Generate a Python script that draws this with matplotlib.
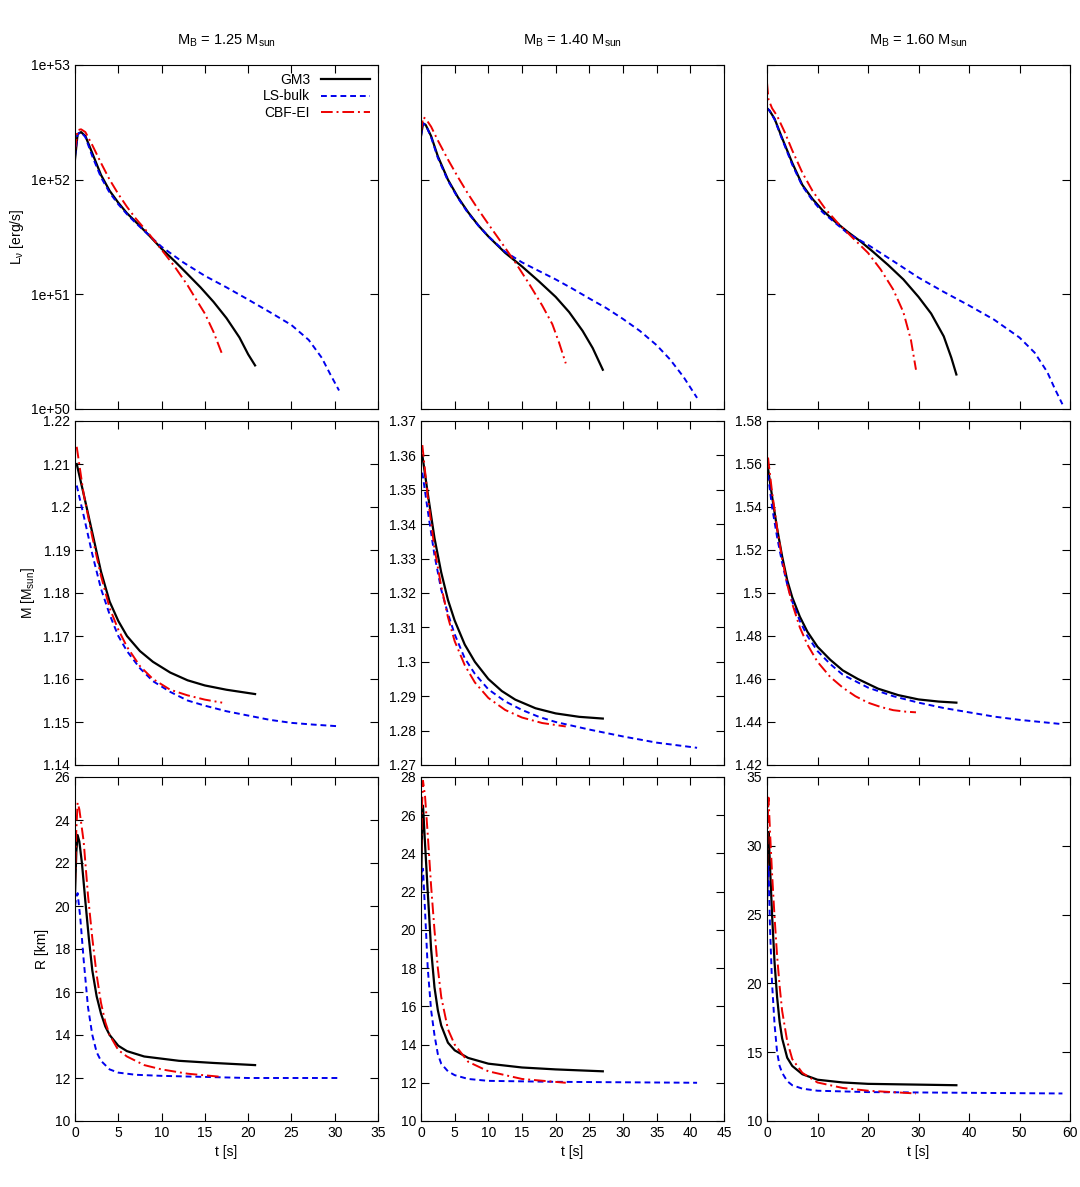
import numpy as np
import matplotlib
matplotlib.use("Agg")
import matplotlib.pyplot as plt
from matplotlib.ticker import MultipleLocator, FixedLocator, NullLocator, FuncFormatter

plt.rcParams['font.family'] = ['Liberation Sans', 'DejaVu Sans']
plt.rcParams['font.size'] = 10
plt.rcParams['mathtext.default'] = 'regular'

masses = ["1.25", "1.40", "1.60"]
series = ["GM3", "LS-bulk", "CBF-EI"]

# Luminosity [erg/s]
L_t = {
 (0, "GM3"): [0, .3, .7, 1.2, 2, 3, 4, 5, 6, 7, 8.5, 10, 11.5, 13, 14.5, 16, 17.5, 19, 20, 20.8],
 (0, "LS-bulk"): [0, .3, .7, 1.2, 2, 3, 4, 5, 6, 7, 8.5, 10, 12.5, 15, 17.5, 20, 22.5, 25, 27, 28.5, 29.5, 30.5],
 (0, "CBF-EI"): [0, .3, .7, 1.2, 2, 3, 4, 5, 6, 7, 8.5, 10, 11.5, 13, 14, 15, 16, 17],
 (1, "GM3"): [0, .3, .7, 1.5, 2.5, 4, 5.5, 7, 8.5, 10, 12.5, 15, 17.5, 20, 22, 24, 25.5, 27],
 (1, "LS-bulk"): [0, .3, .7, 1.5, 2.5, 4, 5.5, 7, 8.5, 10, 12.5, 15, 17.5, 20, 22.5, 25, 27.5, 30, 32.5, 35, 37, 39, 41],
 (1, "CBF-EI"): [0, .3, .7, 1.5, 2.5, 4, 5.5, 7, 8.5, 10, 12, 14, 16, 18, 19.5, 20.5, 21.5],
 (2, "GM3"): [0, .5, 1.5, 3, 5, 7, 9, 11, 13.5, 16, 18.5, 21, 24, 27, 30, 32.5, 35, 36.5, 37.5],
 (2, "LS-bulk"): [0, .5, 1.5, 3, 5, 7, 9, 11, 13.5, 16, 20, 25, 30, 35, 40, 45, 50, 53, 55.5, 57, 58.5],
 (2, "CBF-EI"): [0, .3, 1, 2, 3.5, 5, 7, 9, 11.5, 14, 17, 20, 22.5, 25, 27, 28.5, 29.5],
}
L_v = {
 (0, "GM3"): [1.5e52, 2.5e52, 2.6e52, 2.4e52, 1.7e52, 1.1e52, 8e51, 6.3e51, 5.1e51, 4.3e51, 3.3e51, 2.5e51, 1.95e51, 1.5e51, 1.15e51, 8.6e50, 6.2e50, 4.2e50, 3.0e50, 2.4e50],
 (0, "LS-bulk"): [1.6e52, 2.5e52, 2.6e52, 2.35e52, 1.6e52, 1.05e52, 7.7e51, 6.1e51, 5e51, 4.2e51, 3.3e51, 2.6e51, 1.9e51, 1.45e51, 1.15e51, 9e50, 7e50, 5.4e50, 4e50, 2.8e50, 2e50, 1.45e50],
 (0, "CBF-EI"): [1.8e52, 2.7e52, 2.75e52, 2.6e52, 2e52, 1.4e52, 1e52, 7.5e51, 5.8e51, 4.6e51, 3.4e51, 2.45e51, 1.75e51, 1.2e51, 9e50, 6.8e50, 4.7e50, 3e50],
 (1, "GM3"): [2.4e52, 3.1e52, 3e52, 2.4e52, 1.6e52, 1e52, 7e51, 5.2e51, 4e51, 3.2e51, 2.3e51, 1.75e51, 1.3e51, 9.5e50, 7e50, 4.8e50, 3.4e50, 2.2e50],
 (1, "LS-bulk"): [2.4e52, 3.1e52, 3e52, 2.35e52, 1.55e52, 9.8e51, 6.9e51, 5.1e51, 4e51, 3.2e51, 2.35e51, 1.9e51, 1.6e51, 1.35e51, 1.12e51, 9.2e50, 7.6e50, 6.1e50, 4.8e50, 3.6e50, 2.7e50, 1.9e50, 1.25e50],
 (1, "CBF-EI"): [2.6e52, 3.5e52, 3.4e52, 2.9e52, 2.2e52, 1.5e52, 1.05e52, 7.5e51, 5.5e51, 4.1e51, 2.8e51, 1.9e51, 1.25e51, 8e50, 5.5e50, 3.8e50, 2.5e50],
 (2, "GM3"): [4.2e52, 4e52, 3.4e52, 2.3e52, 1.4e52, 9e51, 6.8e51, 5.4e51, 4.3e51, 3.5e51, 2.9e51, 2.35e51, 1.8e51, 1.35e51, 9.5e50, 6.8e50, 4.3e50, 2.8e50, 2e50],
 (2, "LS-bulk"): [4.2e52, 4e52, 3.35e52, 2.25e52, 1.35e52, 8.8e51, 6.6e51, 5.2e51, 4.2e51, 3.4e51, 2.7e51, 1.95e51, 1.4e51, 1.05e51, 8e50, 6e50, 4.2e50, 3.1e50, 2.1e50, 1.5e50, 1.1e50],
 (2, "CBF-EI"): [7e52, 5e52, 4.2e52, 3.6e52, 2.6e52, 1.8e52, 1.15e52, 8e51, 5.6e51, 4.2e51, 3.1e51, 2.3e51, 1.65e51, 1.1e51, 7e50, 4e50, 2.2e50],
}

# Gravitational mass [Msun]
M_t = {
 (0, "GM3"): [.2, 1, 2, 3, 4, 5, 6, 7.5, 9, 11, 13, 15, 17.5, 20.8],
 (0, "LS-bulk"): [.2, 1, 2, 3, 4, 5, 6, 7.5, 9, 11, 13, 15, 17.5, 20, 22.5, 25, 27.5, 30.5],
 (0, "CBF-EI"): [.2, 1, 2, 3, 4, 5, 6, 7.5, 9, 11, 13, 15, 17],
 (1, "GM3"): [.2, 1, 2, 3, 4, 5, 6.5, 8, 10, 12, 14, 17, 20, 23.5, 27],
 (1, "LS-bulk"): [.2, 1, 2, 3, 4, 5, 6.5, 8, 10, 12.5, 15, 17.5, 20, 25, 30, 35, 41],
 (1, "CBF-EI"): [.2, 1, 2, 3, 4, 5, 6.5, 8, 10, 12.5, 15, 18, 21.5],
 (2, "GM3"): [.2, 1, 2, 3, 4, 5, 6.5, 8, 10, 12.5, 15, 18, 22, 26, 30, 34, 37.5],
 (2, "LS-bulk"): [.2, 1, 2, 3, 4, 5, 6.5, 8, 10, 12.5, 15, 20, 25, 30, 35, 40, 45, 50, 58.5],
 (2, "CBF-EI"): [.2, 1, 2, 3, 4, 5, 6.5, 8, 10, 12.5, 15, 17.5, 20, 22.5, 25, 27.5, 29.5],
}
M_v = {
 (0, "GM3"): [1.210, 1.203, 1.194, 1.185, 1.178, 1.1735, 1.170, 1.1665, 1.164, 1.1615, 1.1597, 1.1585, 1.1575, 1.1565],
 (0, "LS-bulk"): [1.205, 1.198, 1.189, 1.181, 1.175, 1.170, 1.1665, 1.1625, 1.1595, 1.157, 1.155, 1.1538, 1.1525, 1.1515, 1.1505, 1.1498, 1.1494, 1.149],
 (0, "CBF-EI"): [1.214, 1.203, 1.193, 1.184, 1.1765, 1.1715, 1.1675, 1.163, 1.160, 1.1575, 1.1562, 1.1552, 1.1545],
 (1, "GM3"): [1.360, 1.349, 1.336, 1.326, 1.318, 1.312, 1.305, 1.300, 1.295, 1.2915, 1.289, 1.2865, 1.285, 1.284, 1.2835],
 (1, "LS-bulk"): [1.355, 1.344, 1.331, 1.321, 1.314, 1.308, 1.301, 1.2965, 1.292, 1.2885, 1.286, 1.284, 1.2825, 1.2803, 1.2783, 1.2765, 1.275],
 (1, "CBF-EI"): [1.363, 1.348, 1.333, 1.322, 1.313, 1.306, 1.299, 1.294, 1.2895, 1.286, 1.2838, 1.2822, 1.2812],
 (2, "GM3"): [1.558, 1.545, 1.530, 1.517, 1.506, 1.498, 1.489, 1.482, 1.475, 1.469, 1.464, 1.460, 1.4555, 1.4525, 1.4505, 1.4495, 1.449],
 (2, "LS-bulk"): [1.555, 1.540, 1.526, 1.514, 1.504, 1.496, 1.487, 1.480, 1.473, 1.467, 1.462, 1.456, 1.452, 1.449, 1.4465, 1.4445, 1.4425, 1.441, 1.439],
 (2, "CBF-EI"): [1.563, 1.547, 1.530, 1.516, 1.504, 1.495, 1.484, 1.476, 1.468, 1.461, 1.456, 1.452, 1.449, 1.447, 1.4455, 1.4448, 1.4445],
}

# Radius [km]
R_t = {
 (0, "GM3"): [0, .15, .3, .5, .8, 1.2, 1.6, 2, 2.5, 3, 3.5, 4, 5, 6, 8, 10, 12, 16, 20.8],
 (0, "LS-bulk"): [0, .15, .3, .6, 1, 1.5, 2, 2.5, 3, 4, 5, 7, 10, 20, 30.5],
 (0, "CBF-EI"): [0, .15, .3, .5, 1, 1.5, 2, 2.5, 3, 3.5, 4, 5, 6, 8, 10, 13, 17],
 (1, "GM3"): [0, .15, .3, .6, 1, 1.5, 2, 2.5, 3, 4, 5, 7, 10, 15, 20, 27],
 (1, "LS-bulk"): [0, .15, .3, .6, 1, 1.5, 2, 2.5, 3, 4, 5, 7, 10, 20, 41],
 (1, "CBF-EI"): [0, .15, .3, .6, 1, 1.5, 2, 2.5, 3, 4, 5, 7, 10, 15, 21.5],
 (2, "GM3"): [0, .15, .3, .6, 1, 1.5, 2, 2.5, 3, 4, 5, 7, 10, 15, 20, 37.5],
 (2, "LS-bulk"): [0, .15, .3, .6, 1, 1.5, 2, 2.5, 3, 4, 5, 7, 10, 20, 58.5],
 (2, "CBF-EI"): [0, .15, .3, .6, 1, 1.5, 2, 2.5, 3, 4, 5, 7, 10, 15, 20, 29.5],
}
R_v = {
 (0, "GM3"): [20.5, 22.5, 23.3, 23.0, 22, 20.2, 18.5, 17, 15.8, 15, 14.4, 14, 13.5, 13.25, 13.0, 12.9, 12.8, 12.7, 12.6],
 (0, "LS-bulk"): [20, 20.4, 20.6, 19.5, 17.5, 15.3, 14, 13.2, 12.8, 12.4, 12.25, 12.15, 12.1, 12.0, 12.0],
 (0, "CBF-EI"): [21, 23.5, 24.8, 24.5, 23, 20.5, 18.5, 16.8, 15.5, 14.6, 14, 13.3, 13, 12.6, 12.4, 12.2, 12.05],
 (1, "GM3"): [22, 25, 26.5, 24.5, 22, 19, 17, 15.8, 15, 14.1, 13.7, 13.3, 13, 12.8, 12.7, 12.6],
 (1, "LS-bulk"): [22, 23, 23.2, 21, 18, 15.8, 14.5, 13.5, 13, 12.6, 12.4, 12.2, 12.1, 12.05, 12.0],
 (1, "CBF-EI"): [23, 26.5, 27.8, 27, 25, 22.3, 20, 18, 16.5, 14.8, 14, 13.1, 12.6, 12.2, 12.0],
 (2, "GM3"): [26, 29.5, 31, 28.5, 25, 21.5, 19, 17.2, 16, 14.6, 14, 13.4, 13, 12.8, 12.7, 12.6],
 (2, "LS-bulk"): [26, 28, 28.5, 24, 20, 17, 15, 14, 13.5, 12.9, 12.6, 12.35, 12.2, 12.1, 12.0],
 (2, "CBF-EI"): [27, 32, 33.5, 31, 28, 24.8, 22, 19.8, 18, 15.8, 14.5, 13.5, 12.8, 12.4, 12.2, 12.0],
}

styles = {"GM3": dict(color='black', ls='-', lw=1.6),
          "LS-bulk": dict(color='#0000ee', ls=(0, (3, 2)), lw=1.4),
          "CBF-EI": dict(color='#ee0000', ls=(0, (6, 2, 1, 2)), lw=1.4)}

xmax = [35, 45, 60]
xstep = [5, 5, 10]
mlims = [(1.14, 1.22, 0.01), (1.27, 1.37, 0.01), (1.42, 1.58, 0.02)]
rlims = [(10, 26, 2), (10, 28, 2), (10, 35, 5)]

fig = plt.figure(figsize=(10.8, 11.87), dpi=100)
W, H = 1080, 1187
xl = [75, 421, 767]; pw = 303
yt = [65, 421, 777]; ph = 344

for c in range(3):
    axes = []
    for r in range(3):
        ax = fig.add_axes([xl[c]/W, 1 - (yt[r]+ph)/H, pw/W, ph/H])
        axes.append(ax)
        ax.tick_params(direction='in', top=True, right=True, length=6, labelsize=10)
        ax.set_xlim(0, xmax[c])
        ax.xaxis.set_major_locator(MultipleLocator(xstep[c]))
        if r < 2:
            ax.set_xticklabels([])
    aL, aM, aR = axes
    for s in series:
        aL.plot(L_t[(c, s)], L_v[(c, s)], label=s, **styles[s])
        aM.plot(M_t[(c, s)], M_v[(c, s)], **styles[s])
        aR.plot(R_t[(c, s)], R_v[(c, s)], **styles[s])
    aL.set_yscale('log')
    aL.set_ylim(1e50, 1e53)
    aL.yaxis.set_major_locator(FixedLocator([1e50, 1e51, 1e52, 1e53]))
    aL.yaxis.set_minor_locator(NullLocator())
    if c == 0:
        aL.set_yticklabels(['1e+50', '1e+51', '1e+52', '1e+53'])
        aL.set_ylabel(r'L$_\nu$ [erg/s]')
        aM.set_ylabel(r'M [M$_{sun}$]')
        aR.set_ylabel('R [km]')
        aL.legend(loc='upper right', frameon=False, markerfirst=False, handlelength=3.5,
                  borderaxespad=0.2, labelspacing=0.15, fontsize=10)
    else:
        aL.set_yticklabels([])
    lo, hi, st = mlims[c]
    aM.set_ylim(lo, hi)
    aM.yaxis.set_major_locator(FixedLocator(np.round(np.arange(lo, hi + st/2, st), 3)))
    aM.yaxis.set_major_formatter(FuncFormatter(lambda v, p: ('%g' % round(v, 3))))
    lo, hi, st = rlims[c]
    aR.set_ylim(lo, hi)
    aR.yaxis.set_major_locator(MultipleLocator(st))
    aR.set_xlabel('t [s]')
    aL.set_title(r'M$_{B}$ = %s M$_{sun}$' % masses[c], fontsize=10.5, pad=15)

fig.savefig('out.png', dpi=100)
